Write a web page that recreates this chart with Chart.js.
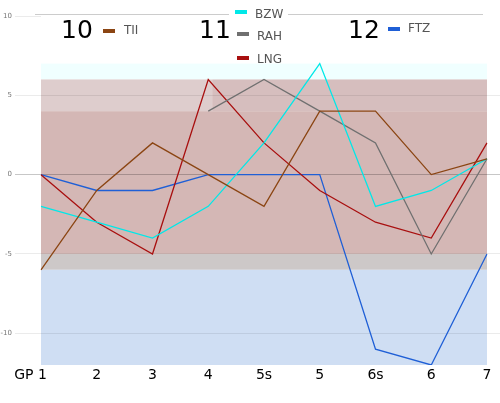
<!DOCTYPE html>
<html>
<head>
<meta charset="utf-8">
<script src="https://cdn.jsdelivr.net/npm/chart.js@4"></script>
<style>
  body { margin: 0; background: #fff; }
  canvas { display: block; }
</style>
</head>
<body>
<canvas id="chart" width="500" height="403"></canvas>
<script>
// values
const labels = ["GP 1", "2", "3", "4", "5s", "5", "6s", "6", "7"];
const tii = [-6, -1, 2, 0, -2, 4, 4, 0, 1];
const bzw = [-2, -3, -4, -2, 2, 7, -2, -1, 1];
const rah = [null, null, null, 4, 6, 4, 2, -5, 1];
const lng = [0, -3, -5, 6, 2, -1, -3, -4, 2];
const ftz = [0, -1, -1, 0, 0, 0, -11, -12, -5];
const yTicks = [-10, -5, 0, 5, 10];
const groupNumbers = ["10", "11", "12"];

const colors = {
  TII: "#8b4513",
  BZW: "#00e8e8",
  RAH: "#707070",
  LNG: "#a80f0f",
  FTZ: "#1f5fd6",
};

// background bands (value ranges)
const bands = [
  { y0: 6, y1: 7, x0: 0, x1: 8, color: "rgb(240,255,255)" },
  { y0: 4, y1: 6, x0: 0, x1: 3.07, color: "rgb(222,205,205)" },
  { y0: 4, y1: 6, x0: 3.07, x1: 8, color: "rgb(214,190,190)" },
  { y0: -5, y1: 4, x0: 0, x1: 8, color: "rgb(212,183,181)" },
  { y0: -6, y1: -5, x0: 0, x1: 8, color: "rgb(205,200,200)" },
  { y0: -12, y1: -6, x0: 0, x1: 8, color: "rgb(207,222,243)" },
];

const bandsPlugin = {
  id: "bands",
  beforeDraw(chart) {
    const { ctx, scales } = chart;
    ctx.save();
    bands.forEach((b) => {
      const left = scales.x.getPixelForValue(b.x0);
      const right = scales.x.getPixelForValue(b.x1);
      const top = scales.y.getPixelForValue(b.y1);
      const bottom = scales.y.getPixelForValue(b.y0);
      ctx.fillStyle = b.color;
      ctx.fillRect(left, top, right - left, bottom - top);
    });
    ctx.restore();
  },
};

const legendPlugin = {
  id: "groupLegend",
  afterDraw(chart) {
    const ctx = chart.ctx;
    ctx.save();
    // separators
    ctx.strokeStyle = "#cccccc";
    ctx.lineWidth = 1;
    ctx.beginPath();
    ctx.moveTo(35, 14.5);
    ctx.lineTo(229, 14.5);
    ctx.moveTo(288, 14.5);
    ctx.lineTo(483, 14.5);
    ctx.stroke();

    ctx.fillStyle = "#000";
    ctx.font = "25px 'DejaVu Sans', sans-serif";
    ctx.textAlign = "center";
    ctx.textBaseline = "alphabetic";
    ctx.fillText(groupNumbers[0], 77, 38);
    ctx.fillText(groupNumbers[1], 215, 38);
    ctx.fillText(groupNumbers[2], 364, 38);

    const items = [
      ["TII", 103, 29, 124, 34],
      ["BZW", 235, 10, 255, 18],
      ["RAH", 237, 32, 257, 40],
      ["LNG", 237, 56, 257, 63],
      ["FTZ", 388, 27, 408, 32],
    ];
    ctx.font = "12px 'DejaVu Sans', sans-serif";
    ctx.textAlign = "left";
    items.forEach(([name, bx, by, tx, ty]) => {
      ctx.fillStyle = colors[name];
      ctx.fillRect(bx, by, 12, 4);
      ctx.fillStyle = "#555";
      ctx.fillText(name, tx, ty);
    });
    ctx.restore();
  },
};

const series = { TII: tii, BZW: bzw, RAH: rah, LNG: lng, FTZ: ftz };
const datasets = Object.keys(series).map((name) => ({
  label: name,
  data: series[name],
  borderColor: colors[name],
  backgroundColor: colors[name],
  borderWidth: 1.3,
  pointRadius: 0,
  tension: 0,
  fill: false,
  spanGaps: false,
}));

const gridColor = (ctx) =>
  ctx.tick && ctx.tick.value === 0 ? "rgba(0,0,0,0.22)" : "rgba(0,0,0,0.08)";

new Chart(document.getElementById("chart"), {
  type: "line",
  data: { labels, datasets },
  options: {
    responsive: false,
    animation: false,
    devicePixelRatio: 1,
    layout: { padding: { top: 16, right: 0, left: 0, bottom: 0 } },
    plugins: { legend: { display: false }, tooltip: { enabled: false } },
    scales: {
      x: {
        offset: false,
        grid: { display: false, drawTicks: false },
        border: { display: false },
        ticks: {
          color: "#000",
          font: { size: 14, family: "'DejaVu Sans', sans-serif" },
          maxRotation: 0,
          autoSkip: false,
          padding: 2,
          callback: (v, i) => (i === 0 ? labels[i] + "\u2002\u2002\u2002" : labels[i]),
        },
        afterFit: (s) => { s.height = 38; },
      },
      y: {
        min: -12,
        max: 10,
        afterBuildTicks: (s) => { s.ticks = yTicks.map((v) => ({ value: v })); },
        border: { display: false },
        grid: {
          tickLength: 26,
          color: (ctx) => (ctx.tick && ctx.tick.value === 10 ? "rgba(0,0,0,0)" : gridColor(ctx)),
          tickColor: gridColor,
        },
        ticks: {
          color: "#777",
          padding: 3,
          font: { size: 7, family: "'DejaVu Sans', sans-serif" },
        },
        afterFit: (s) => { s.width = 41; },
      },
      yr: {
        position: "right",
        min: -12,
        max: 10,
        afterBuildTicks: (s) => { s.ticks = yTicks.map((v) => ({ value: v })); },
        border: { display: false },
        grid: {
          drawOnChartArea: false,
          tickLength: 13,
          tickColor: (ctx) => (ctx.tick && ctx.tick.value === 10 ? "rgba(0,0,0,0)" : gridColor(ctx)),
        },
        ticks: { display: false },
        afterFit: (s) => { s.width = 13; },
      },
    },
  },
  plugins: [bandsPlugin, legendPlugin],
});
</script>
</body>
</html>
